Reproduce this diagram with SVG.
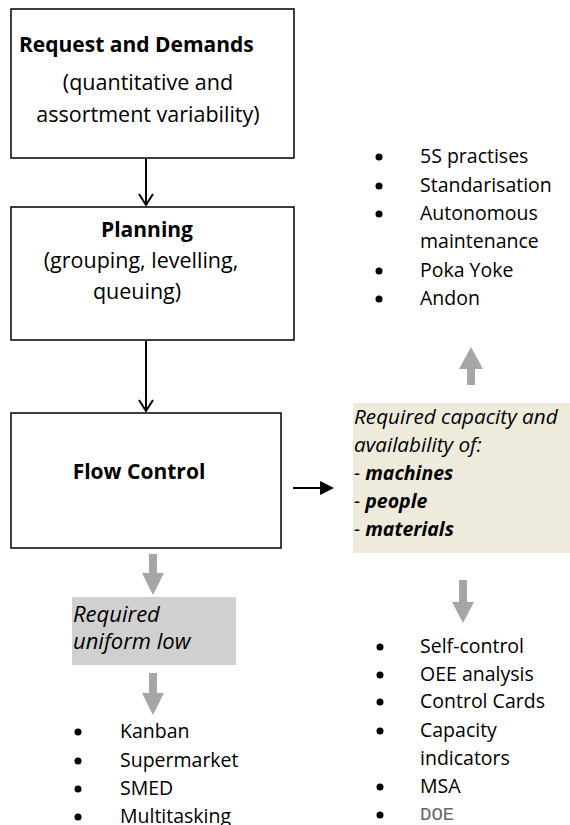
<svg xmlns="http://www.w3.org/2000/svg" width="570" height="825" viewBox="0 0 570 825">
<style>
.box{fill:#fff;stroke:#000;stroke-width:1.5}
.t{font-family:"Open Sans","Noto Sans",sans-serif;font-size:19.5px;fill:#000}
.bt{font-size:21.5px}
.bb{font-size:21px}
.bg{font-size:20.7px}
.gl{font-size:22px}
.b{font-weight:bold}
.i{font-style:italic}
.c{text-anchor:middle}
.ln{stroke:#000;stroke-width:2;fill:none}
.ga{fill:#A6A6A6}
.dot{fill:#000}
</style>
<rect width="570" height="825" fill="#fff"/>
<g id="request">
<rect class="box" x="11" y="9" width="283" height="149"/>
<text class="t b bb" x="19" y="52">Request and Demands</text>
<text class="t bt c" x="148" y="90">(quantitative and</text>
<text class="t bt c" x="148" y="122">assortment variability)</text>
</g>
<g id="planning">
<rect class="box" x="11" y="207" width="283" height="133"/>
<text class="t b bb c" x="147" y="237">Planning</text>
<text class="t bt c" x="141" y="268">(grouping, levelling,</text>
<text class="t bt c" x="137" y="299">queuing)</text>
</g>
<g id="flow">
<rect class="box" x="11" y="413" width="270" height="135"/>
<text class="t b bb c" x="139" y="479">Flow Control</text>
</g>
<g id="capacity">
<rect x="353" y="403" width="217" height="150" fill="#EEEBDD"/>
<text class="t i bg" x="354" y="424">Required capacity and</text>
<text class="t i bg" x="354" y="452">availability of:</text>
<text class="t i" x="354" y="480">- <tspan class="b">machines</tspan></text>
<text class="t i" x="354" y="508">- <tspan class="b">people</tspan></text>
<text class="t i" x="354" y="536">- <tspan class="b">materials</tspan></text>
</g>
<g id="uniform">
<rect x="72" y="597" width="164" height="68" fill="#D0D0D0"/>
<text class="t i gl" x="73" y="622">Required</text>
<text class="t i gl" x="73" y="649">uniform low</text>
</g>
<g id="list-top">
<circle class="dot" cx="379" cy="157" r="3.5"/>
<text class="t" x="420" y="163">5S  practises</text>
<circle class="dot" cx="379" cy="186" r="3.5"/>
<text class="t" x="420" y="192">Standarisation</text>
<circle class="dot" cx="379" cy="214" r="3.5"/>
<text class="t" x="420" y="220">Autonomous</text>
<text class="t" x="420" y="248">maintenance</text>
<circle class="dot" cx="379" cy="271" r="3.5"/>
<text class="t" x="420" y="277">Poka Yoke</text>
<circle class="dot" cx="379" cy="299" r="3.5"/>
<text class="t" x="420" y="305">Andon</text>
</g>
<g id="list-right">
<circle class="dot" cx="380" cy="647" r="3.5"/>
<text class="t" x="420" y="653">Self-control</text>
<circle class="dot" cx="380" cy="675" r="3.5"/>
<text class="t" x="420" y="681">OEE analysis</text>
<circle class="dot" cx="380" cy="702" r="3.5"/>
<text class="t" x="420" y="708">Control Cards</text>
<circle class="dot" cx="380" cy="731" r="3.5"/>
<text class="t" x="420" y="737">Capacity</text>
<text class="t" x="420" y="765">indicators</text>
<circle class="dot" cx="380" cy="787" r="3.5"/>
<text class="t" x="420" y="793">MSA</text>
<circle class="dot" cx="380" cy="815" r="3.5"/>
<text x="420" y="820" font-family="'Liberation Mono',monospace" font-size="19px" fill="#666">DOE</text>
</g>
<g id="list-left">
<circle class="dot" cx="78" cy="732" r="3.5"/>
<text class="t" x="120" y="738">Kanban</text>
<circle class="dot" cx="78" cy="761" r="3.5"/>
<text class="t" x="120" y="767">Supermarket</text>
<circle class="dot" cx="78" cy="789" r="3.5"/>
<text class="t" x="120" y="795">SMED</text>
<circle class="dot" cx="78" cy="817" r="3.5"/>
<text class="t" x="120" y="823">Multitasking</text>
</g>
<g id="connectors">
<line class="ln" x1="146" y1="159" x2="146" y2="205"/>
<polyline class="ln" points="139,194 146,205 153,194"/>
<line class="ln" x1="146" y1="341" x2="146" y2="411"/>
<polyline class="ln" points="139,400 146,411 153,400"/>
<line class="ln" x1="293" y1="488" x2="322" y2="488"/>
<polygon fill="#000" points="320,481 334,488 320,495"/>
<polygon class="ga" points="471,347 483,369 475,369 475,385 467,385 467,369 459,369"/>
<polygon class="ga" points="149,554 157,554 157,573 164,573 153,595 142,573 149,573"/>
<polygon class="ga" points="149,673 157,673 157,693 164,693 153,715 142,693 149,693"/>
<polygon class="ga" points="459,580 467,580 467,602 474,602 463,623 452,602 459,602"/>
</g>
</svg>
